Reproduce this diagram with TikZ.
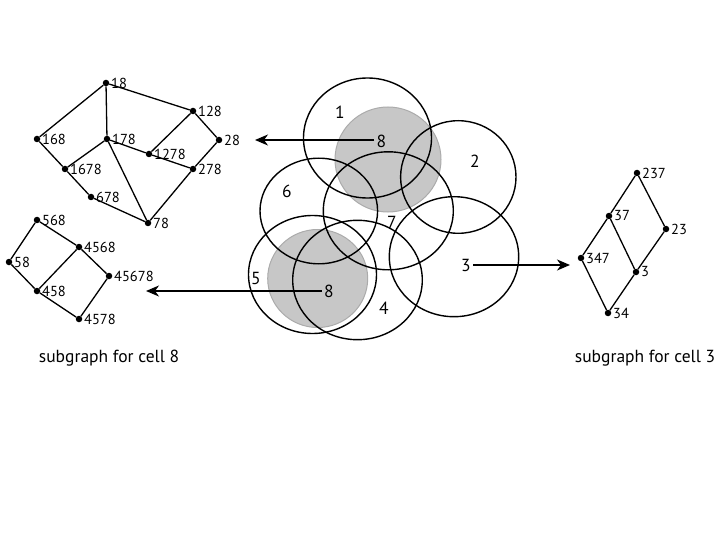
\documentclass[tikz,border=0pt]{standalone}
\usepackage{fontspec}
\setmainfont{PT Sans}
\usetikzlibrary{arrows.meta}
\begin{document}
\begin{tikzpicture}[x=1pt,y=-1pt,
  dot/.style={circle,fill=black,inner sep=0pt,minimum size=6.5pt},
  every label/.style={font=\fontsize{14.5}{14.5}\selectfont,inner sep=0.5pt,label distance=1pt},
  edge/.style={line width=1.3pt},
  cell/.style={line width=1.4pt},
  shade/.style={fill=black!22,draw=black!33,line width=1pt},
  cnum/.style={font=\fontsize{17.5}{17.5}\selectfont,inner sep=2.5pt},
  arr/.style={line width=1.3pt,-{Stealth[length=13pt,width=11pt,inset=4pt]}},
  captext/.style={font=\fontsize{17.5}{17.5}\selectfont}]
\useasboundingbox (0,0) rectangle (720,540);

% ---- cells ----
\draw[shade] (388,159.5) ellipse [x radius=53pt, y radius=52.5pt];
\draw[shade] (317.7,278.5) ellipse [x radius=50pt, y radius=49pt];
\draw[cell] (367.5,138) ellipse [x radius=64pt, y radius=60pt];
\draw[cell] (458.3,177) ellipse [x radius=57.7pt, y radius=56.3pt];
\draw[cell] (318.8,211) ellipse [x radius=58.8pt, y radius=52.8pt];
\draw[cell] (388.3,210.8) ellipse [x radius=65pt, y radius=59pt];
\draw[cell] (454,256.7) ellipse [x radius=64.7pt, y radius=60pt];
\draw[cell] (312.5,274.5) ellipse [x radius=64pt, y radius=59pt];
\draw[cell] (357.5,280) ellipse [x radius=64.8pt, y radius=59.7pt];

\node[cnum] (l1) at (340,112) {1};
\node[cnum] (l2) at (475,161) {2};
\node[cnum] (l6) at (287,191) {6};
\node[cnum] (l7) at (392,222) {7};
\node[cnum] (l3) at (466,265) {3};
\node[cnum] (l5) at (256,278) {5};
\node[cnum] (l4) at (384,308) {4};
\node[cnum] (e8a) at (381.5,141) {8};
\node[cnum] (e8b) at (329,291) {8};

\coordinate (t8a) at (255,140);
\coordinate (t8b) at (146,291);
\coordinate (t3) at (570,265);
\draw[arr] (e8a.west |- t8a) -- (t8a);
\draw[arr] (e8b.west |- t8b) -- (t8b);
\draw[arr] (l3.east |- t3) -- (t3);

% ---- subgraph A (cell 8, top) ----
\node[dot,label=right:18] (a18) at (106,83) {};
\node[dot,label=right:128] (a128) at (193,111) {};
\node[dot,label=right:168] (a168) at (37,139) {};
\node[dot,label=right:178] (a178) at (107,139) {};
\node[dot,label=right:28] (a28) at (219,140) {};
\node[dot,label=right:1278] (a1278) at (149,154) {};
\node[dot,label=right:1678] (a1678) at (65,169) {};
\node[dot,label=right:278] (a278) at (193,169) {};
\node[dot,label=right:678] (a678) at (91,197) {};
\node[dot,label=right:78] (a78) at (148,223) {};
\draw[edge] (a18) -- (a168) (a18) -- (a178) (a18) -- (a128)
  (a128) -- (a1278) (a128) -- (a28) (a28) -- (a278)
  (a168) -- (a1678) (a178) -- (a1678) (a178) -- (a1278) (a178) -- (a78)
  (a1278) -- (a278) (a1678) -- (a678) (a678) -- (a78) (a278) -- (a78);

% ---- subgraph B (cell 8, bottom) ----
\node[dot,label=right:568] (b568) at (37,220) {};
\node[dot,label=right:4568] (b4568) at (79,247) {};
\node[dot,label=right:58] (b58) at (9,262) {};
\node[dot,label=right:45678] (b45678) at (109,276) {};
\node[dot,label=right:458] (b458) at (37,291) {};
\node[dot,label=right:4578] (b4578) at (79,319) {};
\draw[edge] (b568) -- (b58) (b568) -- (b4568) (b58) -- (b458)
  (b4568) -- (b458) (b4568) -- (b45678) (b458) -- (b4578) (b45678) -- (b4578);

% ---- subgraph C (cell 3) ----
\node[dot,label=right:237] (c237) at (637,173) {};
\node[dot,label=right:37] (c37) at (609,216) {};
\node[dot,label=right:23] (c23) at (666,229) {};
\node[dot,label=right:347] (c347) at (581,258) {};
\node[dot,label=right:3] (c3) at (636,272) {};
\node[dot,label=right:34] (c34) at (608,313) {};
\draw[edge] (c237) -- (c37) (c237) -- (c23) (c37) -- (c347) (c37) -- (c3)
  (c23) -- (c3) (c347) -- (c34) (c3) -- (c34);

\node[captext] (cap8) at (109,358) {subgraph for cell 8};
\node[captext] (cap3) at (645,358) {subgraph for cell 3};
\end{tikzpicture}
\end{document}
